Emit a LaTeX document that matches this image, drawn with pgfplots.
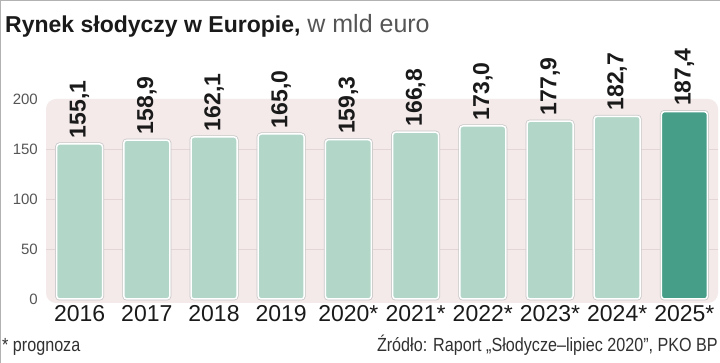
\documentclass[border=0pt]{standalone}
\usepackage{pgfplots}
\pgfplotsset{compat=1.18}
\usepackage{fontspec}
\setmainfont{Liberation Sans}
\newfontfamily\condfont{Liberation Sans}[FakeStretch=0.85]
\definecolor{panel}{HTML}{F4EAEA}
\definecolor{gridc}{HTML}{E4D6D6}
\definecolor{barlight}{HTML}{B2D7C9}
\definecolor{bardark}{HTML}{469E89}
\definecolor{titlec}{HTML}{1A1A1A}
\definecolor{subc}{HTML}{555555}
\begin{document}
\begin{tikzpicture}
\useasboundingbox (0,0) rectangle (720pt,363pt);
\fill[white] (0,0) rectangle (720pt,363pt);
\draw[black!30, line width=1pt] (0.5pt,0) -- (0.5pt,362.5pt) -- (720pt,362.5pt);
\begin{axis}[
  at={(46pt,60pt)}, anchor=south west,
  scale only axis, width=672pt, height=204pt,
  xmin=-0.5, xmax=9.5, ymin=-4, ymax=200,
  axis line style={draw=none},
  axis x line*=bottom, axis y line*=left,
  axis background/.style={fill=panel, rounded corners=10pt},
  /pgf/number format/assume math mode=true,
  ybar, bar width=46pt, bar shift=0pt,
  xtick={0,...,9},
  xticklabels={2016,2017,2018,2019,2020*,2021*,2022*,2023*,2024*,2025*},
  ytick={0,50,100,150,200},
  minor ytick={50,100,150},
  yminorgrids,
  minor grid style={gridc, line width=0.7pt},
  tick style={draw=none},
  major tick length=0pt, minor tick length=0pt,
  xticklabel style={anchor=base, yshift=-19pt, font=\fontsize{23}{23}\selectfont, text=titlec},
  yticklabel style={anchor=east, inner sep=0pt, xshift=-8pt, font=\fontsize{15}{15}\selectfont, text=subc},
  nodes near coords={\pgfmathprintnumber[fixed,fixed zerofill,precision=1,use comma]{\pgfplotspointmeta}},
  every node near coord/.append style={rotate=90, anchor=west, inner xsep=5pt, inner ysep=0pt,
     font=\bfseries\fontsize{23}{23}\selectfont, text=titlec},
  clip=false,
]
\addplot[fill=barlight, draw=white, line width=1.5pt, rounded corners=3pt,
  preaction={draw=black!22, line width=3pt, rounded corners=3pt}]
  coordinates {(0,155.1) (1,158.9) (2,162.1) (3,165.0) (4,159.3) (5,166.8) (6,173.0) (7,177.9) (8,182.7)};
\addplot[fill=bardark, draw=white, line width=1.5pt, rounded corners=3pt,
  preaction={draw=black!22, line width=3pt, rounded corners=3pt}]
  coordinates {(9,187.4)};
\end{axis}
\node[anchor=base west, inner sep=0pt, text=titlec] at (5pt,330pt)
  {\fontsize{23}{23}\selectfont\textbf{Rynek słodyczy w Europie,}\fontsize{25}{25}\selectfont\ \textcolor{subc}{w mld euro}};
\node[anchor=base west, inner sep=0pt, text=titlec!90] at (2pt,11pt)
  {\condfont\fontsize{19}{19}\selectfont * prognoza};
\node[anchor=base east, inner sep=0pt, text=titlec!90] at (718pt,11pt)
  {\condfont\fontsize{19}{19}\selectfont Źródło: Raport „Słodycze–lipiec 2020”, PKO BP};
\end{tikzpicture}
\end{document}
